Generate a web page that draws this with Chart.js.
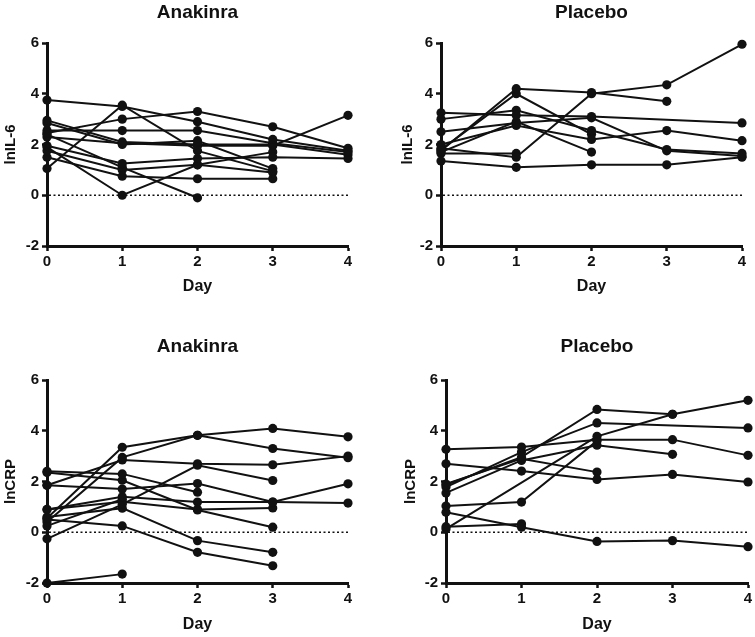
<!DOCTYPE html>
<html>
<head>
<meta charset="utf-8">
<script src="https://cdn.jsdelivr.net/npm/chart.js@4"></script>
<style>
body { margin: 0; background: #fff; }
#wrap { position: relative; width: 755px; height: 637px; }
canvas { position: absolute; }
</style>
</head>
<body>
<div id="wrap">
<canvas id="c1" width="375" height="300" style="left:0;top:0"></canvas>
<canvas id="c2" width="380" height="300" style="left:375px;top:0"></canvas>
<canvas id="c3" width="375" height="337" style="left:0;top:300px"></canvas>
<canvas id="c4" width="380" height="337" style="left:375px;top:300px"></canvas>
</div>
<script>
const days = [0, 1, 2, 3, 4];

// lnIL-6, one row per patient, values for day 0..4
const il6Anakinra = [
    [3.75, 3.5, 2.9, 2.2, 1.75],
    [1.05, 3.55, 1.75, 0.95, null],
    [2.45, 3.0, 3.3, 2.7, 1.85],
    [2.55, 2.55, 2.55, 2.05, 1.7],
    [2.95, 2.1, 2.0, 2.0, 1.6],
    [2.85, 2.0, 2.15, 1.05, null],
    [2.3, 2.05, 1.95, 1.95, 3.15],
    [1.95, 1.25, 1.45, 1.5, 1.45],
    [1.75, 1.0, 1.2, 1.7, null],
    [1.5, 0.75, 0.65, 0.65, null],
    [1.9, 0.0, 1.2, 0.9, null],
    [2.4, 1.1, -0.1, null, null]
];
const il6Placebo = [
    [1.75, 4.2, 4.05, 3.7, null],
    [1.85, 1.5, 4.0, 4.35, 5.95],
    [3.25, 3.15, 3.1, null, 2.85],
    [3.0, 3.35, 2.55, 1.8, 1.65],
    [2.5, 2.85, 3.05, 1.75, 1.55],
    [2.0, 2.75, 2.2, 2.55, 2.15],
    [1.7, 2.9, 1.7, null, null],
    [1.8, 4.0, 2.4, null, null],
    [1.65, 1.65, null, null, null],
    [1.35, 1.1, 1.2, 1.2, 1.5]
];
// lnCRP
const crpAnakinra = [
    [0.55, 3.35, 3.82, 4.09, 3.76],
    [0.4, 2.95, 3.82, 3.3, 2.94],
    [1.85, 2.85, 2.7, 2.66, 3.0],
    [2.4, 2.3, 1.58, null, null],
    [2.35, 2.05, 0.88, 0.2, null],
    [1.85, 1.7, 1.92, 1.19, 1.91],
    [0.9, 1.4, 1.19, 1.19, 1.15],
    [-0.26, 1.1, 2.64, 2.04, null],
    [0.9, 1.2, 0.9, 0.96, null],
    [0.6, 0.95, -0.33, -0.79, null],
    [0.5, 0.25, -0.79, -1.32, null],
    [0.25, 1.3, null, null, null],
    [-2.0, -1.65, null, null, null]
];
const crpPlacebo = [
    [3.27, 3.36, 3.65, 3.65, 3.03],
    [2.7, 2.41, 2.08, 2.28, 1.98],
    [1.87, 2.96, 4.84, 4.65, null],
    [1.78, 3.16, 4.31, null, 4.11],
    [1.55, 2.83, 3.43, 3.07, null],
    [1.9, 2.9, 2.37, null, null],
    [1.03, 1.19, 3.6, null, null],
    [0.13, null, 3.78, 4.65, 5.2],
    [0.79, 0.2, -0.36, -0.33, -0.57],
    [0.22, 0.33, null, null, null]
];

const ink = '#111111';
const fam = '"Liberation Sans", Arial, Helvetica, sans-serif';
Chart.defaults.font.family = fam;
Chart.defaults.color = ink;

const zeroLine = {
    id: 'zeroLine',
    beforeDatasetsDraw(chart) {
        const { ctx, chartArea, scales } = chart;
        const y = scales.y.getPixelForValue(0);
        ctx.save();
        ctx.strokeStyle = ink;
        ctx.lineWidth = 1.5;
        ctx.setLineDash([2, 2.5]);
        ctx.beginPath();
        ctx.moveTo(chartArea.left + 2, y);
        ctx.lineTo(chartArea.right, y);
        ctx.stroke();
        ctx.restore();
    }
};

const panelTitle = {
    id: 'panelTitle',
    afterDraw(chart, args, opts) {
        const { ctx, chartArea } = chart;
        ctx.save();
        ctx.font = 'bold 19px ' + fam;
        ctx.fillStyle = ink;
        ctx.textAlign = 'center';
        ctx.textBaseline = 'middle';
        ctx.fillText(opts.text, (chartArea.left + chartArea.right) / 2, opts.y);
        ctx.restore();
    }
};

function tickGrid() {
    return { display: true, drawOnChartArea: false, drawTicks: true, tickLength: 5, tickWidth: 2.5, tickColor: ink };
}

function desenharPainel(id, series, titulo, rotuloY, box) {
    const datasets = series.map(valores => ({
        data: valores.map((v, i) => ({ x: days[i], y: v })),
        borderColor: ink,
        backgroundColor: ink,
        borderWidth: 2,
        pointRadius: 4.6,
        pointBorderWidth: 0,
        spanGaps: true,
        clip: false,
        tension: 0
    }));

    new Chart(document.getElementById(id), {
        type: 'line',
        data: { datasets },
        options: {
            responsive: false,
            animation: false,
            events: [],
            layout: { padding: { top: box.top, right: box.right, left: 0, bottom: 0 } },
            plugins: {
                legend: { display: false },
                tooltip: { enabled: false },
                panelTitle: { text: titulo, y: box.titleY }
            },
            scales: {
                x: {
                    type: 'linear', min: 0, max: 4,
                    ticks: { stepSize: 1, padding: 2, font: { size: 15, weight: 'bold' }, color: ink },
                    grid: tickGrid(),
                    border: { display: true, color: ink, width: 3 },
                    title: { display: true, text: 'Day', font: { size: 16, weight: 'bold' }, padding: { top: 0, bottom: box.xPad } },
                    afterFit(s) { s.height = box.xh; }
                },
                y: {
                    min: -2, max: 6,
                    ticks: { stepSize: 2, padding: 3, font: { size: 15, weight: 'bold' }, color: ink },
                    grid: tickGrid(),
                    border: { display: true, color: ink, width: 3 },
                    title: { display: true, text: rotuloY, font: { size: 15, weight: 'bold' }, padding: { top: box.yPad, bottom: 0 } },
                    afterFit(s) { s.width = box.yw; }
                }
            }
        },
        plugins: [zeroLine, panelTitle]
    });
}

desenharPainel('c1', il6Anakinra, 'Anakinra', 'lnIL-6', { top: 43, right: 27, yw: 47, xh: 54, titleY: 13, xPad: 4, yPad: 2 });
desenharPainel('c2', il6Placebo, 'Placebo', 'lnIL-6', { top: 43, right: 13, yw: 66, xh: 54, titleY: 13, xPad: 4, yPad: 24 });
desenharPainel('c3', crpAnakinra, 'Anakinra', 'lnCRP', { top: 80, right: 27, yw: 47, xh: 54, titleY: 47, xPad: 3, yPad: 2 });
desenharPainel('c4', crpPlacebo, 'Placebo', 'lnCRP', { top: 80, right: 7, yw: 71, xh: 54, titleY: 47, xPad: 3, yPad: 27 });
</script>
</body>
</html>
